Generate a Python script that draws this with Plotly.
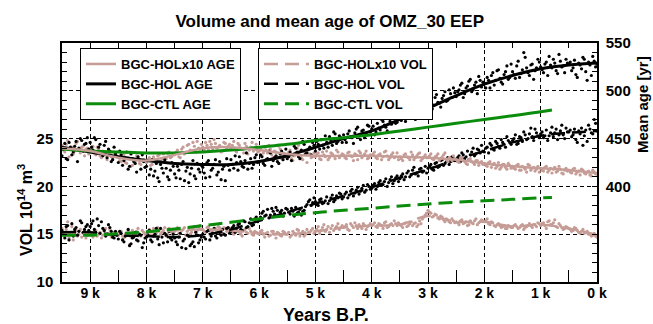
import plotly.graph_objects as go

# ---------------------------------------------------------------------------
# Data: OMZ_30 in the eastern equatorial Pacific, Holocene runs
# x in years before present; VOL in 1e14 m^3; mean age in years
# Annual-mean samples on two interleaved 50-year grids
# ---------------------------------------------------------------------------
years_pts = list(range(9500, -1, -50))
years_mid = list(range(9475, 0, -50))

hol_age_pts = [
    432, 445, 428, 441, 436, 447, 440, 448, 444, 451,
    446, 438, 449, 441, 436, 443, 430, 437, 428, 434,
    425, 433, 427, 436, 421, 429, 424, 431, 418, 426,
    421, 412, 428, 416, 409, 423, 414, 419, 407, 425,
    413, 421, 408, 426, 416, 404, 419, 411, 424, 415,
    420, 409, 427, 417, 423, 412, 426, 418, 406, 422,
    428, 419, 425, 431, 421, 427, 418, 429, 423, 433,
    426, 431, 422, 429, 435, 427, 432, 424, 437, 431,
    429, 436, 433, 440, 431, 438, 444, 435, 441, 446,
    437, 444, 449, 440, 446, 452, 443, 455, 447, 451,
    454, 446, 458, 451, 456, 462, 449, 459, 455, 463,
    460, 454, 466, 459, 468, 462, 471, 465, 474, 467,
    472, 478, 468, 481, 474, 485, 476, 489, 479, 484,
    480, 491, 485, 496, 487, 492, 499, 490, 497, 503,
    494, 501, 508, 497, 505, 512, 501, 509, 515, 504,
    508, 514, 503, 519, 511, 522, 509, 517, 526, 514,
    520, 513, 531, 518, 540, 524, 516, 528, 521, 533,
    525, 519, 530, 536, 524, 529, 518, 531, 526, 533,
    528, 521, 532, 514, 527, 535, 520, 530, 516, 531,
    528,
]
hol_age_mid = [
    439, 429, 446, 433, 442, 426, 450, 437, 445, 439,
    441, 451, 435, 444, 432, 447, 439, 426, 441, 431,
    437, 422, 430, 418, 434, 426, 415, 428, 433, 420,
    427, 418, 411, 424, 405, 419, 428, 410, 417, 421,
    409, 417, 423, 406, 420, 413, 427, 408, 418, 422,
    414, 425, 410, 419, 428, 415, 407, 421, 429, 417,
    423, 432, 417, 426, 420, 435, 424, 419, 430, 425,
    433, 424, 428, 437, 421, 430, 426, 434, 428, 439,
    431, 427, 442, 436, 429, 447, 434, 439, 433, 443,
    447, 439, 443, 453, 441, 448, 457, 445, 453, 446,
    449, 455, 452, 445, 460, 453, 458, 451, 464, 457,
    463, 457, 461, 470, 464, 458, 468, 473, 466, 476,
    469, 475, 483, 471, 478, 470, 482, 477, 486, 474,
    486, 481, 493, 488, 483, 495, 489, 501, 493, 498,
    499, 506, 493, 503, 510, 499, 506, 497, 511, 509,
    503, 511, 516, 506, 521, 513, 507, 520, 512, 528,
    517, 526, 514, 522, 535, 519, 527, 512, 524, 530,
    522, 528, 516, 527, 533, 521, 538, 525, 519, 529,
    530, 524, 517, 529, 523, 533, 511, 527, 536, 525,
]

hol_vol_pts = [
    15.4, 14.6, 15.9, 15.1, 14.8, 15.7, 15.3, 16.2, 15.5, 16.0,
    15.8, 16.4, 15.2, 15.9, 16.3, 15.4, 15.0, 15.7, 14.7, 15.3,
    14.5, 15.1, 14.2, 14.9, 13.8, 14.6, 15.2, 14.3, 14.9, 14.1,
    14.7, 15.4, 14.2, 15.0, 14.5, 15.6, 14.1, 14.9, 15.3, 14.4,
    14.6, 13.9, 15.1, 14.3, 13.5, 14.8, 14.0, 13.7, 14.9, 14.4,
    15.0, 14.5, 15.4, 14.8, 15.6, 14.6, 15.2, 15.5, 14.9, 15.7,
    15.3, 15.9, 15.6, 16.1, 15.4, 16.3, 15.8, 16.6, 16.0, 16.8,
    16.5, 17.2, 16.9, 17.6, 17.0, 17.4, 17.8, 16.9, 17.5, 17.2,
    17.6, 17.1, 17.4, 17.8, 17.3, 17.0, 17.5, 18.1, 18.6, 18.3,
    18.4, 18.0, 18.7, 18.3, 18.9, 18.5, 19.1, 18.6, 18.8, 19.2,
    18.9, 19.4, 19.1, 19.7, 19.3, 19.9, 19.5, 20.1, 19.6, 20.0,
    19.8, 20.3, 20.0, 20.6, 20.2, 20.8, 20.4, 21.0, 20.6, 21.1,
    20.8, 21.3, 21.0, 21.6, 21.2, 22.0, 21.4, 21.8, 21.5, 22.1,
    21.9, 22.3, 21.7, 22.5, 22.1, 22.8, 22.4, 23.0, 22.6, 22.9,
    22.7, 23.2, 23.5, 22.9, 23.7, 23.3, 24.0, 23.4, 23.8, 24.3,
    23.6, 24.1, 24.5, 23.9, 24.7, 24.2, 24.9, 24.4, 25.2, 24.6,
    24.8, 25.4, 24.5, 25.1, 25.7, 24.9, 25.5, 25.2, 26.0, 25.3,
    25.5, 25.1, 25.9, 25.3, 26.2, 25.6, 24.9, 25.8, 25.4, 26.1,
    25.7, 25.2, 26.0, 24.6, 25.5, 24.3, 25.9, 26.4, 25.6, 27.0,
    25.8,
]
hol_vol_mid = [
    15.0, 15.8, 14.4, 16.1, 15.5, 14.9, 16.4, 15.2, 15.8, 15.4,
    16.1, 15.5, 16.6, 15.1, 15.6, 14.8, 16.0, 15.3, 14.6, 14.9,
    15.3, 14.4, 14.8, 15.5, 14.0, 14.7, 14.4, 15.0, 13.6, 14.6,
    15.2, 14.4, 14.8, 15.6, 13.9, 14.7, 15.1, 14.2, 14.6, 15.0,
    14.2, 14.7, 13.6, 14.5, 14.9, 13.8, 14.2, 15.2, 14.1, 14.7,
    14.7, 15.3, 14.4, 15.1, 14.8, 15.4, 14.9, 15.0, 15.6, 15.1,
    15.7, 15.2, 16.0, 15.5, 16.4, 15.7, 16.2, 15.9, 16.6, 16.3,
    16.8, 17.4, 17.0, 16.7, 17.7, 17.1, 17.5, 17.3, 16.9, 17.7,
    17.3, 17.7, 16.9, 17.2, 17.6, 17.4, 17.9, 18.4, 18.0, 18.8,
    18.1, 18.6, 18.2, 18.5, 18.2, 18.8, 18.4, 19.0, 19.3, 18.7,
    19.2, 18.8, 19.5, 19.0, 19.6, 19.2, 19.8, 19.4, 20.2, 19.7,
    20.1, 19.7, 20.4, 20.1, 20.5, 20.0, 20.7, 20.3, 20.9, 20.5,
    21.1, 20.7, 21.4, 21.0, 21.7, 21.3, 21.1, 21.9, 21.6, 21.4,
    22.1, 21.8, 22.4, 22.0, 22.7, 22.2, 22.6, 22.3, 23.1, 22.7,
    23.0, 22.6, 23.3, 23.1, 22.8, 23.6, 23.2, 23.9, 23.5, 23.7,
    24.0, 23.5, 24.3, 23.8, 24.5, 24.0, 24.6, 24.1, 24.8, 24.4,
    25.0, 24.4, 25.2, 24.7, 25.4, 25.0, 26.1, 24.8, 25.6, 25.1,
    25.7, 25.3, 24.8, 25.6, 25.2, 26.0, 25.4, 26.4, 25.0, 25.7,
    25.9, 25.4, 24.9, 25.8, 26.1, 25.3, 24.7, 26.0, 25.5, 26.6,
]

hol10_age_pts = [
    443, 436, 448, 439, 434, 445, 438, 441, 432, 440,
    437, 442, 433, 439, 430, 436, 428, 434, 429, 435,
    431, 426, 433, 424, 429, 422, 427, 431, 423, 428,
    425, 430, 423, 428, 432, 426, 434, 429, 436, 431,
    433, 438, 430, 441, 436, 444, 437, 442, 447, 439,
    441, 446, 438, 444, 449, 440, 443, 437, 445, 442,
    440, 447, 436, 443, 439, 445, 434, 441, 437, 444,
    437, 432, 441, 435, 439, 430, 436, 442, 429, 434,
    433, 438, 427, 435, 443, 430, 436, 425, 434, 431,
    431, 435, 428, 433, 437, 430, 434, 429, 436, 432,
    433, 429, 436, 431, 434, 428, 435, 432, 437, 430,
    432, 436, 429, 434, 431, 437, 428, 433, 430, 435,
    431, 427, 434, 430, 436, 428, 432, 435, 429, 433,
    430, 434, 428, 432, 427, 431, 435, 426, 429, 432,
    428, 425, 430, 426, 423, 429, 425, 427, 422, 426,
    424, 421, 426, 423, 419, 425, 420, 423, 418, 422,
    421, 418, 423, 417, 420, 415, 422, 419, 416, 421,
    419, 416, 421, 417, 414, 420, 416, 418, 413, 419,
    417, 414, 419, 415, 412, 417, 413, 416, 411, 415,
    413,
]
hol10_age_mid = [
    438, 444, 431, 441, 437, 447, 435, 442, 439, 434,
    440, 435, 441, 432, 437, 433, 438, 431, 436, 432,
    427, 432, 425, 430, 421, 428, 432, 424, 427, 420,
    428, 422, 431, 427, 433, 429, 425, 435, 430, 434,
    436, 431, 439, 434, 443, 438, 446, 436, 440, 444,
    438, 443, 447, 439, 445, 441, 436, 446, 440, 444,
    443, 438, 445, 440, 435, 442, 438, 446, 440, 436,
    440, 435, 438, 443, 433, 437, 431, 439, 435, 432,
    436, 429, 432, 440, 437, 428, 433, 438, 430, 435,
    434, 429, 436, 431, 428, 435, 432, 438, 430, 434,
    430, 435, 432, 427, 433, 437, 430, 434, 429, 433,
    434, 430, 433, 428, 436, 432, 430, 435, 431, 428,
    429, 433, 431, 428, 433, 430, 434, 427, 431, 430,
    432, 429, 431, 434, 429, 433, 428, 430, 427, 429,
    426, 430, 427, 424, 428, 426, 423, 427, 425, 423,
    422, 425, 420, 424, 421, 418, 423, 420, 424, 419,
    419, 422, 417, 421, 418, 423, 417, 420, 418, 415,
    417, 420, 415, 419, 418, 415, 421, 414, 417, 416,
    415, 418, 413, 416, 418, 414, 415, 412, 417, 413,
]

hol10_vol_pts = [
    15.6, 14.8, 16.3, 15.1, 14.4, 15.4, 15.0, 14.7, 15.3, 14.9,
    15.2, 14.7, 15.4, 15.0, 14.6, 15.3, 14.9, 15.5, 14.8, 15.1,
    14.9, 15.3, 14.6, 15.1, 13.9, 15.4, 15.0, 15.6, 14.8, 15.2,
    15.1, 15.5, 14.9, 15.3, 15.7, 15.0, 15.4, 14.8, 15.6, 15.2,
    15.3, 15.7, 15.1, 15.5, 14.9, 15.6, 15.2, 15.8, 15.4, 15.9,
    15.5, 15.2, 15.8, 15.4, 16.0, 15.3, 15.7, 15.1, 15.6, 15.4,
    15.4, 15.0, 15.6, 15.2, 14.8, 15.5, 15.1, 15.3, 14.9, 15.2,
    15.0, 15.4, 14.7, 15.2, 14.9, 15.3, 14.6, 15.1, 14.8, 15.2,
    15.0, 14.7, 15.3, 14.9, 15.4, 15.1, 14.8, 15.5, 15.2, 15.6,
    15.3, 15.8, 15.4, 16.0, 15.5, 15.2, 15.9, 15.6, 16.1, 15.7,
    15.7, 16.0, 15.4, 15.9, 16.2, 15.6, 15.8, 16.1, 15.5, 15.9,
    15.9, 16.2, 15.7, 16.0, 15.6, 16.3, 15.8, 16.1, 16.4, 15.9,
    16.0, 15.7, 16.2, 15.9, 16.3, 16.1, 15.8, 16.4, 16.6, 17.0,
    17.5, 17.2, 16.9, 17.0, 16.6, 16.8, 16.3, 16.5, 16.2, 16.4,
    16.3, 16.0, 16.5, 16.2, 15.9, 16.4, 16.1, 16.6, 16.2, 16.5,
    16.3, 16.6, 16.0, 16.2, 15.8, 16.1, 15.7, 15.9, 15.6, 15.8,
    15.7, 16.0, 15.6, 15.9, 15.5, 15.8, 16.1, 15.7, 16.0, 16.2,
    15.9, 16.2, 15.6, 16.4, 16.0, 16.5, 15.7, 15.9, 15.5, 15.8,
    15.6, 15.3, 15.7, 15.4, 15.1, 15.5, 15.2, 15.0, 14.8, 15.1,
    14.7,
]
hol10_vol_mid = [
    15.0, 15.5, 14.6, 15.8, 15.2, 14.8, 15.5, 15.1, 14.6, 15.2,
    14.9, 15.3, 14.8, 15.2, 14.9, 15.6, 15.1, 14.7, 15.2, 14.9,
    15.2, 14.8, 15.0, 15.4, 14.7, 14.9, 15.3, 14.9, 15.4, 15.0,
    15.3, 14.9, 15.6, 15.1, 15.4, 15.2, 15.7, 15.0, 15.3, 15.5,
    15.5, 15.1, 15.4, 15.7, 15.3, 15.0, 15.6, 15.3, 15.7, 15.5,
    15.3, 15.7, 15.5, 15.2, 15.6, 15.8, 15.4, 15.7, 15.3, 15.6,
    15.2, 15.5, 15.3, 15.0, 15.4, 15.2, 15.6, 15.0, 15.3, 15.1,
    15.3, 15.0, 15.1, 14.8, 15.3, 15.0, 15.2, 14.9, 15.3, 15.0,
    15.2, 14.9, 15.1, 15.5, 14.8, 15.3, 15.0, 15.2, 15.4, 15.1,
    15.5, 15.1, 15.7, 15.3, 15.8, 15.6, 15.4, 15.8, 15.5, 15.9,
    15.8, 15.5, 16.1, 15.7, 15.9, 16.0, 15.6, 15.9, 15.8, 16.1,
    16.0, 15.8, 16.1, 15.9, 16.2, 15.7, 16.0, 15.9, 16.1, 16.2,
    15.9, 16.1, 15.8, 16.1, 15.9, 16.2, 16.0, 16.1, 16.8, 17.2,
    17.3, 16.8, 17.1, 16.7, 16.9, 16.5, 16.6, 16.3, 16.6, 16.2,
    16.2, 16.4, 16.1, 16.3, 16.0, 16.2, 16.4, 16.0, 16.3, 16.4,
    16.4, 16.1, 16.3, 15.9, 16.0, 15.9, 15.8, 15.6, 15.9, 15.7,
    15.9, 15.8, 15.7, 16.0, 15.7, 15.9, 15.9, 16.0, 15.8, 16.1,
    16.1, 15.9, 16.3, 16.0, 16.2, 15.8, 16.1, 15.7, 15.6, 15.7,
    15.5, 15.4, 15.6, 15.2, 15.3, 15.1, 15.3, 15.0, 14.9, 14.8,
]

# smoothed fits (every 500 years)
years_fit = [9500, 9000, 8500, 8000, 7500, 7000, 6500, 6000, 5500, 5000,
             4500, 4000, 3500, 3000, 2500, 2000, 1500, 1000, 500, 0]
hol_age_fit = [441, 436, 431, 427, 424, 423, 423, 426, 432, 441,
               450, 458, 470, 482, 495, 507, 516, 523, 527, 529]
hol10_age_fit = [440, 437, 430, 427, 433, 440, 441, 438, 434, 432,
                 432, 432, 431, 430, 428, 424, 421, 419, 417, 414]
hol_vol_fit = [15.2, 15.2, 14.9, 14.8, 14.7, 14.9, 15.5, 16.4, 17.3, 18.2,
               19.0, 19.9, 20.9, 21.8, 22.8, 23.7, 24.6, 25.3, 25.6, 25.8]
hol10_vol_fit = [15.2, 15.0, 15.0, 15.2, 15.4, 15.5, 15.4, 15.1, 15.0, 15.3,
                 15.7, 15.9, 16.0, 16.9, 16.3, 16.3, 15.8, 16.0, 15.6, 14.9]

# control run (ends 800 yr BP)
years_ctl = [9500, 9000, 8500, 8000, 7500, 7000, 6500, 6000, 5500, 5000,
             4500, 4000, 3500, 3000, 2500, 2000, 1500, 1000, 800]
ctl_age = [439, 437, 436, 435, 435, 436, 438, 441, 444, 448,
           451, 454, 458, 462, 466, 470, 474, 478, 480]
ctl_vol = [14.9, 14.9, 15.05, 15.25, 15.55, 15.9, 16.25, 16.6, 16.95, 17.25,
           17.5, 17.7, 17.95, 18.15, 18.35, 18.5, 18.65, 18.8, 18.85]

x_tickvals = [9000, 8000, 7000, 6000, 5000, 4000, 3000, 2000, 1000, 0]
x_ticktext = ["9 k", "8 k", "7 k", "6 k", "5 k", "4 k", "3 k", "2 k", "1 k", "0 k"]

# ---------------------------------------------------------------------------
PINK = "#c59c96"
BLACK = "#000000"
GREEN = "#0c8c0c"
FONT = "Liberation Sans, Arial, Helvetica, sans-serif"
DASH = "14px,7px"

fig = go.Figure()

def pts(y_a, y_b, color, axis):
    fig.add_trace(go.Scatter(
        x=years_pts + years_mid, y=y_a + y_b, mode="markers", yaxis=axis,
        marker=dict(size=3.2, color=color, line=dict(width=0)),
        showlegend=False, hoverinfo="skip"))

pts(hol10_vol_pts, hol10_vol_mid, PINK, "y")
pts(hol_vol_pts, hol_vol_mid, BLACK, "y")
pts(hol10_age_pts, hol10_age_mid, PINK, "y2")
pts(hol_age_pts, hol_age_mid, BLACK, "y2")

# age fits (solid, right axis)
fig.add_trace(go.Scatter(x=years_fit, y=hol10_age_fit, mode="lines", yaxis="y2",
                         xaxis="x2", line=dict(color=PINK, width=2.5, shape="spline"),
                         name="BGC-HOLx10 AGE", legend="legend"))
fig.add_trace(go.Scatter(x=years_fit, y=hol_age_fit, mode="lines", yaxis="y2",
                         line=dict(color=BLACK, width=3, shape="spline"),
                         name="BGC-HOL AGE", legend="legend"))
fig.add_trace(go.Scatter(x=years_ctl, y=ctl_age, mode="lines", yaxis="y2",
                         line=dict(color=GREEN, width=3, shape="spline"),
                         name="BGC-CTL AGE", legend="legend"))

# volume fits (dashed, left axis)
fig.add_trace(go.Scatter(x=years_fit, y=hol10_vol_fit, mode="lines", yaxis="y",
                         line=dict(color=PINK, width=2.5, dash=DASH, shape="spline"),
                         name="BGC-HOLx10 VOL", legend="legend2"))
fig.add_trace(go.Scatter(x=years_fit, y=hol_vol_fit, mode="lines", yaxis="y",
                         line=dict(color=BLACK, width=2.5, dash=DASH, shape="spline"),
                         name="BGC-HOL VOL", legend="legend2"))
fig.add_trace(go.Scatter(x=years_ctl, y=ctl_vol, mode="lines", yaxis="y",
                         line=dict(color=GREEN, width=3, dash=DASH, shape="spline"),
                         name="BGC-CTL VOL", legend="legend2"))

tickfont = dict(family=FONT, size=15, color="black", weight="bold")
xtickfont = dict(family=FONT, size=14, color="black", weight="bold")
grid = dict(showgrid=True, gridcolor="black", gridwidth=1, griddash="4px,3px")

legend_common = dict(
    xanchor="left", yanchor="top", y=0.979,
    bgcolor="white", bordercolor="black", borderwidth=1,
    font=dict(family=FONT, size=13, color="black", weight="bold"),
    tracegroupgap=0,
)

fig.update_layout(
    width=653, height=324,
    margin=dict(l=62, r=56, t=43, b=42),
    paper_bgcolor="white", plot_bgcolor="white",
    title=dict(text="Volume and mean age of OMZ_30 EEP",
               x=0.505, xanchor="center", y=1 - 21 / 324, yanchor="middle",
               yref="container",
               font=dict(family=FONT, size=17, color="black", weight="bold")),
    xaxis=dict(range=[9500, 0], tickmode="array", tickvals=x_tickvals, ticktext=x_ticktext,
               ticks="inside", ticklen=12, tickcolor="black", tickfont=xtickfont,
               ticklabelstandoff=-3,
               minor=dict(tick0=0, dtick=500, ticks="inside", ticklen=12,
                          tickcolor="black", showgrid=False),
               showline=True, linecolor="black", linewidth=1.5, mirror=True,
               zeroline=False, **grid),
    xaxis2=dict(range=[9500, 0], overlaying="x", side="top", anchor="y",
                tick0=0, dtick=500, ticks="inside", ticklen=5, tickcolor="black",
                showticklabels=False, showgrid=False, showline=False, zeroline=False),
    yaxis=dict(range=[10, 35], tickmode="array", tickvals=[10, 15, 20, 25, 30],
               ticktext=["10", "15", "20", "25", ""],
               ticks="inside", ticklen=5, tickcolor="black", tickfont=tickfont,
               ticklabelstandoff=4,
               minor=dict(dtick=1, ticks="inside", ticklen=5, tickcolor="black",
                          showgrid=False),
               showline=True, linecolor="black", linewidth=1.5,
               zeroline=False, **grid),
    yaxis2=dict(range=[300, 550], overlaying="y", side="right", anchor="x",
                tickmode="array", tickvals=[400, 450, 500, 550],
                ticks="inside", ticklen=5, tickcolor="black", tickfont=tickfont,
                ticklabelstandoff=4,
                minor=dict(dtick=10, ticks="inside", ticklen=5, tickcolor="black",
                           showgrid=False),
                showline=True, linecolor="black", linewidth=1.5,
                showgrid=False, zeroline=False),
    legend=dict(x=(80 - 62) / 535, itemwidth=30, **legend_common),
    legend2=dict(x=(258 - 62) / 535, itemwidth=45, **legend_common),
    annotations=[
        dict(text="VOL 10<sup>14</sup> m<sup>3</sup>", textangle=-90,
             xref="paper", yref="paper", x=(25 - 62) / 535, y=(282 - 210) / 239,
             xanchor="center", yanchor="middle", showarrow=False,
             font=dict(family=FONT, size=16, color="black", weight="bold")),
        dict(text="Mean age [yr]", textangle=-90,
             xref="paper", yref="paper", x=(642 - 62) / 535, y=(282 - 105) / 239,
             xanchor="center", yanchor="middle", showarrow=False,
             font=dict(family=FONT, size=15, color="black", weight="bold")),
        dict(text="Years B.P.",
             xref="paper", yref="paper", x=(326 - 62) / 535, y=(282 - 315) / 239,
             xanchor="center", yanchor="middle", showarrow=False,
             font=dict(family=FONT, size=18, color="black", weight="bold")),
    ],
)

fig.write_html("out.html")
